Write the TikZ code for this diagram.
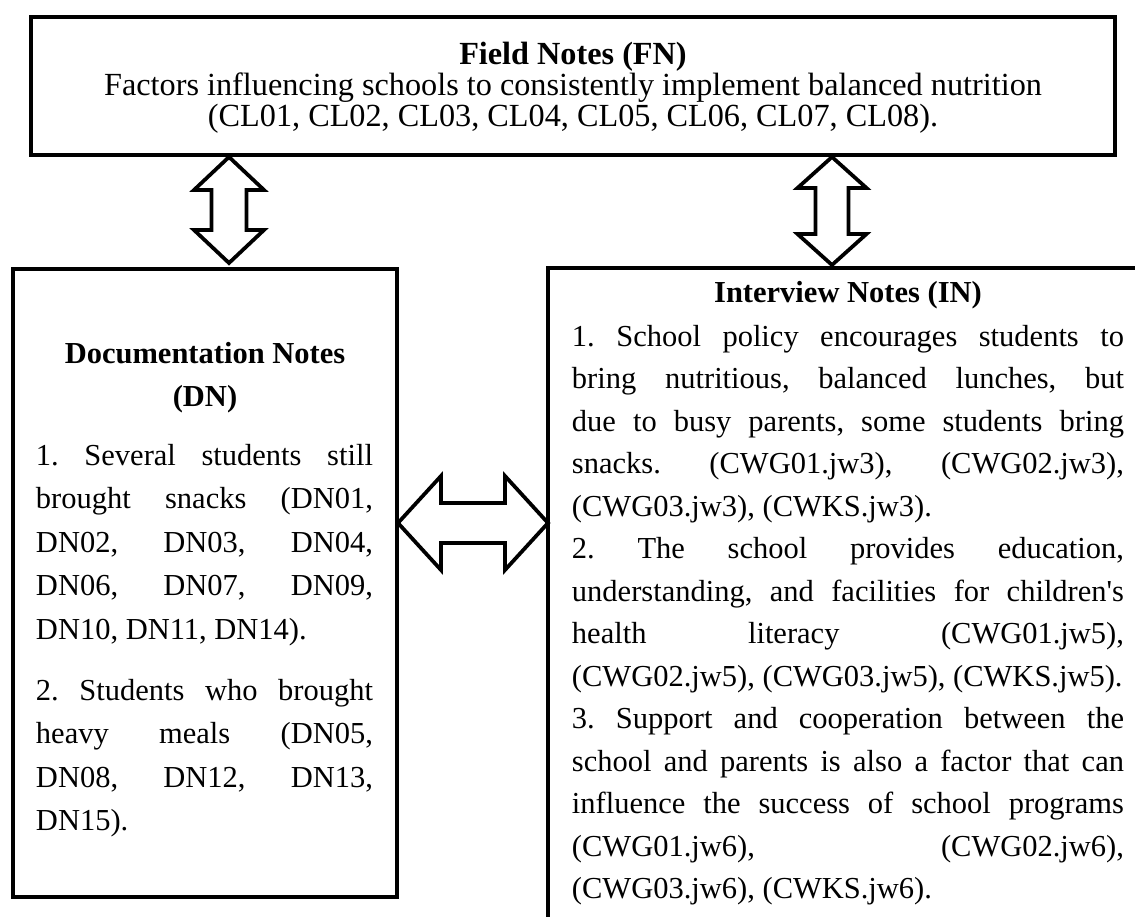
\documentclass[tikz,border=0pt]{standalone}
\usepackage{fontspec}
\setmainfont{Liberation Serif}
\usetikzlibrary{fit,calc}
\frenchspacing
\newlength\lw \setlength\lw{134.8pt}
\newlength\rw \setlength\rw{220.8pt}
\newcommand{\jl}[1]{\makebox[\lw][s]{#1}}
\newcommand{\jr}[1]{\makebox[\rw][s]{#1}}
\newcommand{\topfont}{\fontsize{12.9}{12.4}\selectfont\setlength{\lineskiplimit}{-20pt}}
\newcommand{\vblock}[5]{%
 \draw[blk] (#1) -- ++(#3,#5) -- ++({-(#3-#4)},0) -- ($(#2)+(#4,-#5)$) -- ++({#3-#4},0) -- (#2)
   -- ++(-#3,-#5) -- ++({#3-#4},0) -- ($(#1)+(-#4,#5)$) -- ++({-(#3-#4)},0) -- cycle;}
\newcommand{\hblock}[5]{%
 \draw[blk] (#1) -- ++(#5,-#3) -- ++(0,{#3-#4}) -- ($(#2)+(-#5,-#4)$) -- ++(0,{-(#3-#4)}) -- (#2)
   -- ++(-#5,#3) -- ++(0,{-(#3-#4)}) -- ($(#1)+(#5,#4)$) -- ++(0,{#3-#4}) -- cycle;}
\tikzset{
 box/.style={draw, line width=1.6pt, inner sep=0pt},
 blk/.style={draw, line width=1.5pt, fill=white, line join=miter},
 toptext/.style={align=center, inner sep=0pt, font=\topfont},
 ttl/.style={align=center, inner sep=0pt, font=\fontsize{12.2}{17.2}\selectfont\bfseries},
 ltext/.style={align=left, inner sep=0pt, font=\fontsize{12.2}{17.4}\selectfont},
 rtext/.style={align=left, inner sep=0pt, font=\fontsize{12.2}{17}\selectfont},
}
\begin{document}
\begin{tikzpicture}[x=0.4pt,y=-0.4pt]
\useasboundingbox (0,0) rectangle (1135,917);
% boxes
\node[box, fit={(31,17) (1115,155)}] (FN) {};
\node[box, fit={(13,269) (397,897)}] (DN) {};
\node[box, fit={(548,268) (1160,940)}] (IN) {};
% texts
\node[toptext] (FNt) at (573,88) {\textbf{Field Notes (FN)}\\Factors influencing schools to consistently implement balanced nutrition\\(CL01, CL02, CL03, CL04, CL05, CL06, CL07, CL08).};
\node[ttl] (DNt) at (205,378) {Documentation Notes\\(DN)};
\node[ltext] (DN1) at (204.5,545) {\jl{1. Several students still}\\\jl{brought snacks (DN01,}\\\jl{DN02, DN03, DN04,}\\\jl{DN06, DN07, DN09,}\\DN10, DN11, DN14).};
\node[ltext] (DN2) at (204.5,758) {\jl{2. Students who brought}\\\jl{heavy meals (DN05,}\\\jl{DN08, DN12, DN13,}\\DN15).};
\node[ttl] (INt) at (848,295) {Interview Notes (IN)};
\node[rtext] (INb) at (848,615) {\jr{1. School policy encourages students to}\\\jr{bring nutritious, balanced lunches, but}\\\jr{due to busy parents, some students bring}\\\jr{snacks. (CWG01.jw3), (CWG02.jw3),}\\(CWG03.jw3), (CWKS.jw3).\\\jr{2. The school provides education,}\\\jr{understanding, and facilities for children\textquotesingle s}\\\jr{health literacy (CWG01.jw5),}\\(CWG02.jw5), (CWG03.jw5), (CWKS.jw5).\\\jr{3. Support and cooperation between the}\\\jr{school and parents is also a factor that can}\\\jr{influence the success of school programs}\\\jr{(CWG01.jw6), (CWG02.jw6),}\\(CWG03.jw6), (CWKS.jw6).};
% arrow end points on the box edges
\coordinate (a1t) at (229,157);
\coordinate (a1b) at (229,263);
\coordinate (a2t) at (832,157);
\coordinate (a2b) at (832,265);
\coordinate (a3l) at (398,523);
\coordinate (a3r) at (548,523);
\vblock{a1t}{a1b}{35}{17.5}{33}
\vblock{a2t}{a2b}{34.5}{16.5}{31}
\hblock{a3l}{a3r}{47}{20}{43}
\end{tikzpicture}
\end{document}
